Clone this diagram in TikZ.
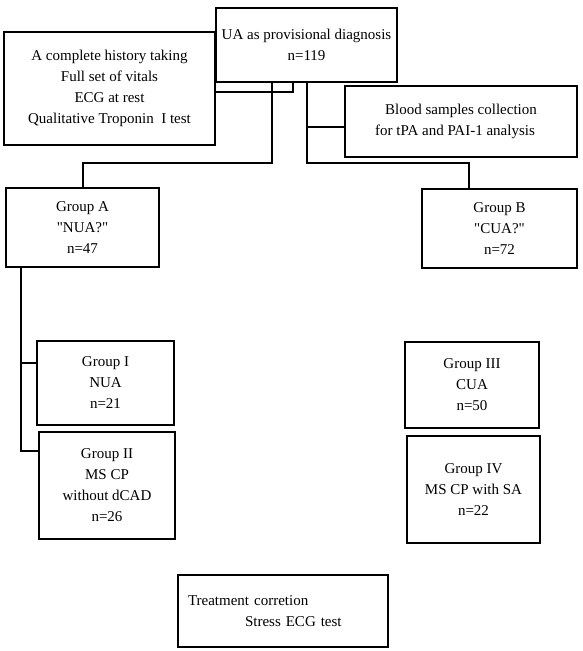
\documentclass[tikz,border=0pt]{standalone}
\usepackage{fontspec}
\setmainfont{Liberation Serif}
\begin{document}
\begin{tikzpicture}[x=1pt,y=-1pt,
  box/.style={draw=black,line width=2pt,align=center,inner sep=0pt,font=\fontsize{15}{21}\selectfont},
  conn/.style={draw=black,line width=2pt}]
\useasboundingbox (0,0) rectangle (582,651);
\node[box,minimum width=181pt,minimum height=74pt] (ua) at (306.5,45) {UA as provisional diagnosis\\n=119};
\node[box,minimum width=211pt,minimum height=113pt] (hist) at (109.5,88.5) {A complete history taking\\Full set of vitals\\ECG at rest\\Qualitative Troponin\ \ I test};
\node[box,minimum width=232pt,minimum height=71pt] (blood) at (461,121.5) {Blood samples collection\\for tPA and PAI-1 analysis\hspace*{12pt}};
\node[box,minimum width=153pt,minimum height=79pt] (ga) at (82.5,227.5) {Group A\\\textquotedbl NUA?\textquotedbl\\n=47};
\node[box,minimum width=155pt,minimum height=79pt] (gb) at (499.5,228.5) {Group B\\\textquotedbl CUA?\textquotedbl\\n=72};
\node[box,minimum width=137pt,minimum height=84pt] (g1) at (105.5,383) {Group I\\NUA\\n=21};
\node[box,minimum width=136pt,minimum height=107pt] (g2) at (107,485.5) {Group II\\MS CP\\without dCAD\\n=26};
\node[box,minimum width=134pt,minimum height=86pt] (g3) at (472,385) {Group III\\CUA\\n=50};
\node[box,minimum width=133pt,minimum height=107pt] (g4) at (473.5,489.5) {Group IV\\MS CP with SA\\n=22};
\node[box,minimum width=210pt,minimum height=72pt,text width=190pt,align=left] (tr) at (283,611) {Treatment corretion\\\hspace*{57pt}Stress ECG test};
\coordinate (j1) at (293,92);
\coordinate (j2) at (272,163);
\coordinate (j3) at (307,163);
\coordinate (j4) at (469,163);
\coordinate (j5) at (307,127);
\coordinate (k1) at (21,363);
\coordinate (k2) at (21,451);
\draw[conn] (j1 |- ua.south) -- (j1) -- (j1 -| hist.east);
\draw[conn] (j2 |- ua.south) -- (j2) -| (ga.north);
\draw[conn] (j3 |- ua.south) -- (j3) -- (j4) -- (j4 |- gb.north);
\draw[conn] (j5) -- (j5 -| blood.west);
\draw[conn] (k1 |- ga.south) -- (k2) -- (k2 -| g2.west);
\draw[conn] (k1) -- (k1 -| g1.west);
\end{tikzpicture}
\end{document}
